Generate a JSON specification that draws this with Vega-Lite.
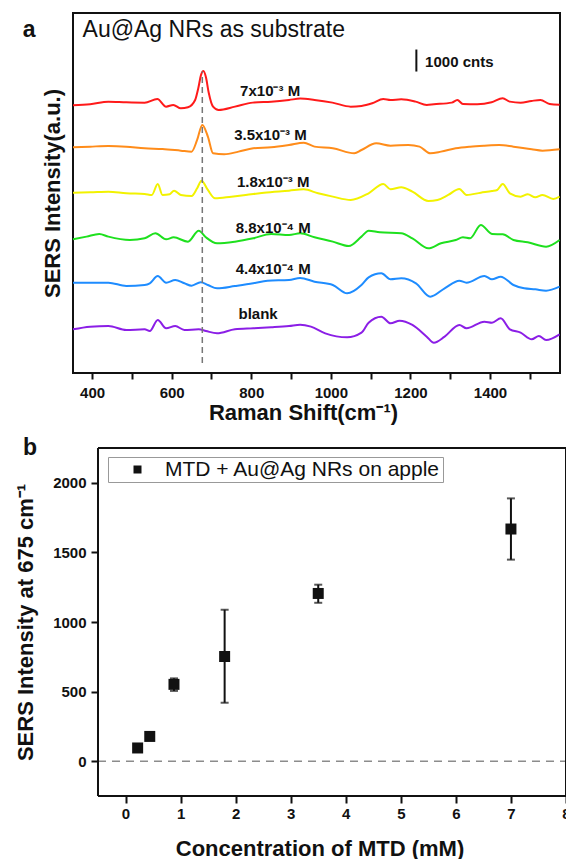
{
  "$schema": "https://vega.github.io/schema/vega-lite/v6.json",
  "padding": {"left": 14, "top": 12, "right": 0, "bottom": 0},
  "spacing": 12,
  "background": "white",
  "resolve": {"scale": {"color": "independent", "shape": "independent"}, "legend": {"color": "independent", "shape": "independent"}},
  "config": {
    "font": "Liberation Sans",
    "view": {"stroke": null},
    "axis": {"labelFont": "Liberation Sans", "labelFontWeight": "bold", "labelFontSize": 15, "labelColor": "#111", "titleFont": "Liberation Sans", "titleFontWeight": "bold", "titleFontSize": 22, "titleColor": "#111", "tickColor": "#111", "tickWidth": 2, "grid": false, "domain": false}
  },
  "datasets": {
    "spectra": [
      {"s":"7x10-3","x":352,"y":12166},{"s":"7x10-3","x":395,"y":12211},{"s":"7x10-3","x":441,"y":12332},{"s":"7x10-3","x":486,"y":12302},{"s":"7x10-3","x":532,"y":12287},{"s":"7x10-3","x":564,"y":12453},{"s":"7x10-3","x":586,"y":12105},{"s":"7x10-3","x":604,"y":12181},{"s":"7x10-3","x":623,"y":12029},{"s":"7x10-3","x":641,"y":12075},{"s":"7x10-3","x":659,"y":12408},{"s":"7x10-3","x":667,"y":12950},{"s":"7x10-3","x":674,"y":13560},{"s":"7x10-3","x":680,"y":13726},{"s":"7x10-3","x":686,"y":13450},{"s":"7x10-3","x":693,"y":12750},{"s":"7x10-3","x":704,"y":12105},{"s":"7x10-3","x":718,"y":11954},{"s":"7x10-3","x":759,"y":12105},{"s":"7x10-3","x":804,"y":12287},{"s":"7x10-3","x":850,"y":12332},{"s":"7x10-3","x":895,"y":12408},{"s":"7x10-3","x":923,"y":12469},{"s":"7x10-3","x":959,"y":12408},{"s":"7x10-3","x":1004,"y":12287},{"s":"7x10-3","x":1050,"y":12105},{"s":"7x10-3","x":1077,"y":12135},{"s":"7x10-3","x":1104,"y":12256},{"s":"7x10-3","x":1132,"y":12453},{"s":"7x10-3","x":1150,"y":12408},{"s":"7x10-3","x":1177,"y":12438},{"s":"7x10-3","x":1213,"y":12332},{"s":"7x10-3","x":1241,"y":12181},{"s":"7x10-3","x":1259,"y":12211},{"s":"7x10-3","x":1304,"y":12287},{"s":"7x10-3","x":1318,"y":12408},{"s":"7x10-3","x":1332,"y":12226},{"s":"7x10-3","x":1368,"y":12211},{"s":"7x10-3","x":1404,"y":12302},{"s":"7x10-3","x":1432,"y":12484},{"s":"7x10-3","x":1450,"y":12332},{"s":"7x10-3","x":1477,"y":12287},{"s":"7x10-3","x":1504,"y":12362},{"s":"7x10-3","x":1527,"y":12408},{"s":"7x10-3","x":1550,"y":12226},{"s":"7x10-3","x":1575,"y":12196},
      {"s":"3.5x10-3","x":352,"y":10257},{"s":"3.5x10-3","x":395,"y":10287},{"s":"3.5x10-3","x":441,"y":10317},{"s":"3.5x10-3","x":486,"y":10287},{"s":"3.5x10-3","x":532,"y":10211},{"s":"3.5x10-3","x":577,"y":10181},{"s":"3.5x10-3","x":623,"y":10105},{"s":"3.5x10-3","x":650,"y":10060},{"s":"3.5x10-3","x":664,"y":10590},{"s":"3.5x10-3","x":677,"y":11272},{"s":"3.5x10-3","x":691,"y":10742},{"s":"3.5x10-3","x":704,"y":9984},{"s":"3.5x10-3","x":732,"y":9939},{"s":"3.5x10-3","x":768,"y":10060},{"s":"3.5x10-3","x":805,"y":10211},{"s":"3.5x10-3","x":850,"y":10257},{"s":"3.5x10-3","x":895,"y":10363},{"s":"3.5x10-3","x":932,"y":10469},{"s":"3.5x10-3","x":959,"y":10287},{"s":"3.5x10-3","x":1005,"y":10211},{"s":"3.5x10-3","x":1059,"y":9984},{"s":"3.5x10-3","x":1077,"y":10135},{"s":"3.5x10-3","x":1114,"y":10438},{"s":"3.5x10-3","x":1150,"y":10332},{"s":"3.5x10-3","x":1195,"y":10363},{"s":"3.5x10-3","x":1223,"y":10287},{"s":"3.5x10-3","x":1250,"y":9984},{"s":"3.5x10-3","x":1277,"y":10060},{"s":"3.5x10-3","x":1314,"y":10211},{"s":"3.5x10-3","x":1350,"y":10287},{"s":"3.5x10-3","x":1386,"y":10332},{"s":"3.5x10-3","x":1423,"y":10363},{"s":"3.5x10-3","x":1459,"y":10287},{"s":"3.5x10-3","x":1505,"y":10166},{"s":"3.5x10-3","x":1532,"y":10105},{"s":"3.5x10-3","x":1575,"y":10166},
      {"s":"1.8x10-3","x":352,"y":8196},{"s":"1.8x10-3","x":395,"y":8211},{"s":"1.8x10-3","x":441,"y":8242},{"s":"1.8x10-3","x":486,"y":8166},{"s":"1.8x10-3","x":532,"y":8136},{"s":"1.8x10-3","x":550,"y":8090},{"s":"1.8x10-3","x":565,"y":8590},{"s":"1.8x10-3","x":577,"y":8090},{"s":"1.8x10-3","x":595,"y":8121},{"s":"1.8x10-3","x":606,"y":8287},{"s":"1.8x10-3","x":623,"y":8090},{"s":"1.8x10-3","x":650,"y":8045},{"s":"1.8x10-3","x":664,"y":8393},{"s":"1.8x10-3","x":675,"y":8742},{"s":"1.8x10-3","x":691,"y":8318},{"s":"1.8x10-3","x":709,"y":7939},{"s":"1.8x10-3","x":750,"y":8015},{"s":"1.8x10-3","x":786,"y":8090},{"s":"1.8x10-3","x":832,"y":8196},{"s":"1.8x10-3","x":895,"y":8287},{"s":"1.8x10-3","x":932,"y":8348},{"s":"1.8x10-3","x":968,"y":8166},{"s":"1.8x10-3","x":1005,"y":8015},{"s":"1.8x10-3","x":1050,"y":7863},{"s":"1.8x10-3","x":1095,"y":8166},{"s":"1.8x10-3","x":1132,"y":8590},{"s":"1.8x10-3","x":1150,"y":8348},{"s":"1.8x10-3","x":1177,"y":8439},{"s":"1.8x10-3","x":1205,"y":8242},{"s":"1.8x10-3","x":1245,"y":7818},{"s":"1.8x10-3","x":1268,"y":7863},{"s":"1.8x10-3","x":1295,"y":8090},{"s":"1.8x10-3","x":1323,"y":8363},{"s":"1.8x10-3","x":1341,"y":8090},{"s":"1.8x10-3","x":1377,"y":8196},{"s":"1.8x10-3","x":1405,"y":8272},{"s":"1.8x10-3","x":1418,"y":8318},{"s":"1.8x10-3","x":1432,"y":8590},{"s":"1.8x10-3","x":1450,"y":8166},{"s":"1.8x10-3","x":1477,"y":8015},{"s":"1.8x10-3","x":1495,"y":8121},{"s":"1.8x10-3","x":1514,"y":7984},{"s":"1.8x10-3","x":1532,"y":8090},{"s":"1.8x10-3","x":1559,"y":7908},{"s":"1.8x10-3","x":1575,"y":8015},
      {"s":"8.8x10-4","x":352,"y":6075},{"s":"8.8x10-4","x":386,"y":6197},{"s":"8.8x10-4","x":418,"y":6318},{"s":"8.8x10-4","x":441,"y":6197},{"s":"8.8x10-4","x":495,"y":6045},{"s":"8.8x10-4","x":532,"y":6121},{"s":"8.8x10-4","x":559,"y":6348},{"s":"8.8x10-4","x":586,"y":6075},{"s":"8.8x10-4","x":605,"y":6166},{"s":"8.8x10-4","x":641,"y":5969},{"s":"8.8x10-4","x":668,"y":6469},{"s":"8.8x10-4","x":686,"y":6166},{"s":"8.8x10-4","x":714,"y":5894},{"s":"8.8x10-4","x":759,"y":5969},{"s":"8.8x10-4","x":805,"y":6121},{"s":"8.8x10-4","x":850,"y":6318},{"s":"8.8x10-4","x":895,"y":6272},{"s":"8.8x10-4","x":923,"y":6348},{"s":"8.8x10-4","x":959,"y":6166},{"s":"8.8x10-4","x":1005,"y":5969},{"s":"8.8x10-4","x":1045,"y":5772},{"s":"8.8x10-4","x":1077,"y":6197},{"s":"8.8x10-4","x":1095,"y":6469},{"s":"8.8x10-4","x":1123,"y":6393},{"s":"8.8x10-4","x":1177,"y":6348},{"s":"8.8x10-4","x":1205,"y":6121},{"s":"8.8x10-4","x":1245,"y":5666},{"s":"8.8x10-4","x":1277,"y":5894},{"s":"8.8x10-4","x":1314,"y":6045},{"s":"8.8x10-4","x":1332,"y":6166},{"s":"8.8x10-4","x":1350,"y":6121},{"s":"8.8x10-4","x":1377,"y":6727},{"s":"8.8x10-4","x":1405,"y":6318},{"s":"8.8x10-4","x":1432,"y":6303},{"s":"8.8x10-4","x":1459,"y":6045},{"s":"8.8x10-4","x":1495,"y":5939},{"s":"8.8x10-4","x":1541,"y":5742},{"s":"8.8x10-4","x":1575,"y":6045},
      {"s":"4.4x10-4","x":352,"y":4106},{"s":"4.4x10-4","x":441,"y":4106},{"s":"4.4x10-4","x":486,"y":3954},{"s":"4.4x10-4","x":532,"y":4000},{"s":"4.4x10-4","x":545,"y":4076},{"s":"4.4x10-4","x":565,"y":4409},{"s":"4.4x10-4","x":586,"y":4106},{"s":"4.4x10-4","x":609,"y":4227},{"s":"4.4x10-4","x":632,"y":4076},{"s":"4.4x10-4","x":650,"y":3969},{"s":"4.4x10-4","x":673,"y":4121},{"s":"4.4x10-4","x":691,"y":4000},{"s":"4.4x10-4","x":714,"y":3848},{"s":"4.4x10-4","x":759,"y":3954},{"s":"4.4x10-4","x":805,"y":4076},{"s":"4.4x10-4","x":841,"y":4197},{"s":"4.4x10-4","x":895,"y":4227},{"s":"4.4x10-4","x":923,"y":4318},{"s":"4.4x10-4","x":959,"y":4151},{"s":"4.4x10-4","x":1005,"y":4000},{"s":"4.4x10-4","x":1041,"y":3621},{"s":"4.4x10-4","x":1077,"y":4000},{"s":"4.4x10-4","x":1095,"y":4348},{"s":"4.4x10-4","x":1127,"y":4530},{"s":"4.4x10-4","x":1150,"y":4257},{"s":"4.4x10-4","x":1177,"y":4303},{"s":"4.4x10-4","x":1214,"y":4076},{"s":"4.4x10-4","x":1250,"y":3470},{"s":"4.4x10-4","x":1286,"y":3848},{"s":"4.4x10-4","x":1323,"y":4197},{"s":"4.4x10-4","x":1341,"y":4106},{"s":"4.4x10-4","x":1386,"y":4409},{"s":"4.4x10-4","x":1405,"y":4257},{"s":"4.4x10-4","x":1427,"y":4379},{"s":"4.4x10-4","x":1459,"y":4000},{"s":"4.4x10-4","x":1486,"y":3848},{"s":"4.4x10-4","x":1514,"y":3803},{"s":"4.4x10-4","x":1541,"y":3742},{"s":"4.4x10-4","x":1575,"y":3924},
      {"s":"blank","x":352,"y":1985},{"s":"blank","x":395,"y":2106},{"s":"blank","x":441,"y":2136},{"s":"blank","x":486,"y":1955},{"s":"blank","x":532,"y":1985},{"s":"blank","x":545,"y":1909},{"s":"blank","x":565,"y":2409},{"s":"blank","x":586,"y":2030},{"s":"blank","x":609,"y":2136},{"s":"blank","x":632,"y":1955},{"s":"blank","x":668,"y":1985},{"s":"blank","x":686,"y":1909},{"s":"blank","x":714,"y":1803},{"s":"blank","x":759,"y":1985},{"s":"blank","x":805,"y":2030},{"s":"blank","x":850,"y":2076},{"s":"blank","x":895,"y":2136},{"s":"blank","x":923,"y":2197},{"s":"blank","x":950,"y":2106},{"s":"blank","x":986,"y":1803},{"s":"blank","x":1041,"y":1621},{"s":"blank","x":1077,"y":1833},{"s":"blank","x":1095,"y":2288},{"s":"blank","x":1127,"y":2561},{"s":"blank","x":1150,"y":2258},{"s":"blank","x":1173,"y":2379},{"s":"blank","x":1205,"y":2182},{"s":"blank","x":1241,"y":1652},{"s":"blank","x":1259,"y":1379},{"s":"blank","x":1286,"y":1652},{"s":"blank","x":1323,"y":2182},{"s":"blank","x":1341,"y":2030},{"s":"blank","x":1386,"y":2333},{"s":"blank","x":1405,"y":2288},{"s":"blank","x":1427,"y":2485},{"s":"blank","x":1450,"y":1985},{"s":"blank","x":1477,"y":1833},{"s":"blank","x":1505,"y":1530},{"s":"blank","x":1523,"y":1682},{"s":"blank","x":1541,"y":1500},{"s":"blank","x":1575,"y":1758}
    ],
    "labels": [
      {"x": 772, "y": 12590, "t": "7x10⁻³ M"},
      {"x": 757, "y": 10590, "t": "3.5x10⁻³ M"},
      {"x": 764, "y": 8454, "t": "1.8x10⁻³ M"},
      {"x": 761, "y": 6363, "t": "8.8x10⁻⁴ M"},
      {"x": 761, "y": 4500, "t": "4.4x10⁻⁴ M"},
      {"x": 768, "y": 2454, "t": "blank"}
    ],
    "points": [
      {"series": "MTD + Au@Ag NRs on apple", "c": 0.22, "v": 95, "lo": 95, "hi": 95},
      {"series": "MTD + Au@Ag NRs on apple", "c": 0.44, "v": 178, "lo": 178, "hi": 178},
      {"series": "MTD + Au@Ag NRs on apple", "c": 0.88, "v": 552, "lo": 505, "hi": 595},
      {"series": "MTD + Au@Ag NRs on apple", "c": 1.8, "v": 752, "lo": 420, "hi": 1088},
      {"series": "MTD + Au@Ag NRs on apple", "c": 3.5, "v": 1205, "lo": 1138, "hi": 1268},
      {"series": "MTD + Au@Ag NRs on apple", "c": 7.0, "v": 1668, "lo": 1448, "hi": 1888}
    ]
  },
  "vconcat": [
    {
      "width": 487,
      "height": 360,
      "view": {"stroke": "#111", "strokeWidth": 2},
      "layer": [
        {
          "data": {"name": "spectra"},
          "mark": {"type": "line", "strokeWidth": 2, "interpolate": "monotone"},
          "encoding": {
            "x": {"field": "x", "type": "quantitative", "scale": {"domain": [352, 1576], "nice": false, "zero": false},
                  "axis": {"values": [400,500,600,700,800,900,1000,1100,1200,1300,1400,1500], "format": "d", "labelExpr": "datum.value % 200 === 0 ? datum.label : ''", "tickSize": 6, "labelPadding": 6, "labelFlush": false, "labelOverlap": false, "title": "Raman Shift(cm⁻¹)", "titleX": 230, "titlePadding": 2}},
            "y": {"field": "y", "type": "quantitative", "scale": {"domain": [0, 16360], "nice": false},
                  "axis": {"labels": false, "ticks": false, "title": "SERS Intensity(a.u.)", "titlePadding": 9}},
            "color": {"field": "s", "type": "nominal", "legend": null,
                      "scale": {"domain": ["7x10-3","3.5x10-3","1.8x10-3","8.8x10-4","4.4x10-4","blank"], "range": ["#ff1a1a","#ff8c1a","#f2f200","#1ee01e","#1e8cff","#8b1ee6"]}}
          }
        },
        {
          "data": {"values": [{}]},
          "mark": {"type": "rule", "strokeDash": [6, 4], "color": "#777", "strokeWidth": 1.5},
          "encoding": {"x": {"datum": 677}, "y": {"datum": 455}, "y2": {"datum": 13700}}
        },
        {
          "data": {"name": "labels"},
          "mark": {"type": "text", "align": "left", "baseline": "alphabetic", "fontSize": 15, "fontWeight": "bold", "font": "Liberation Sans", "color": "#111"},
          "encoding": {"x": {"field": "x", "type": "quantitative"}, "y": {"field": "y", "type": "quantitative"}, "text": {"field": "t"}}
        },
        {
          "data": {"values": [{}]},
          "mark": {"type": "text", "align": "left", "baseline": "alphabetic", "fontSize": 23, "font": "Liberation Sans", "color": "#111", "text": "Au@Ag NRs as substrate"},
          "encoding": {"x": {"datum": 376}, "y": {"datum": 15272}}
        },
        {
          "data": {"values": [{}]},
          "mark": {"type": "text", "align": "left", "baseline": "alphabetic", "fontSize": 23, "fontWeight": "bold", "font": "Liberation Sans", "color": "#111", "text": "a"},
          "encoding": {"x": {"datum": 226}, "y": {"datum": 15250}}
        },
        {
          "data": {"values": [{}]},
          "mark": {"type": "rule", "color": "#111", "strokeWidth": 2},
          "encoding": {"x": {"datum": 1215}, "y": {"datum": 13700}, "y2": {"datum": 14700}}
        },
        {
          "data": {"values": [{}]},
          "mark": {"type": "text", "align": "left", "baseline": "alphabetic", "fontSize": 15, "fontWeight": "bold", "font": "Liberation Sans", "color": "#111", "text": "1000 cnts"},
          "encoding": {"x": {"datum": 1237}, "y": {"datum": 13908}}
        }
      ]
    },
    {
      "width": 493,
      "height": 348,
      "view": {"stroke": null},
      "layer": [
        {
          "data": {"values": [{}]},
          "mark": {"type": "rule", "strokeDash": [8, 6], "color": "#8c8c8c", "strokeWidth": 1.5},
          "encoding": {"x": {"datum": -0.5}, "x2": {"datum": 8}, "y": {"datum": 0}}
        },
        {
          "data": {"values": [{}]},
          "mark": {"type": "rule", "color": "#111", "strokeWidth": 2},
          "encoding": {"x": {"datum": -0.5}, "y": {"datum": -250}, "y2": {"datum": 2250}}
        },
        {
          "data": {"values": [{}]},
          "mark": {"type": "rule", "color": "#111", "strokeWidth": 2},
          "encoding": {"x": {"datum": 8}, "y": {"datum": -250}, "y2": {"datum": 2250}}
        },
        {
          "data": {"values": [{}]},
          "mark": {"type": "rule", "color": "#111", "strokeWidth": 2},
          "encoding": {"x": {"datum": -0.5}, "x2": {"datum": 8}, "y": {"datum": 2250}}
        },
        {
          "data": {"values": [{}]},
          "mark": {"type": "rule", "color": "#111", "strokeWidth": 2},
          "encoding": {"x": {"datum": -0.5}, "x2": {"datum": 8}, "y": {"datum": -250}}
        },
        {
          "data": {"values": [{}]},
          "mark": {"type": "text", "align": "left", "baseline": "alphabetic", "fontSize": 23, "fontWeight": "bold", "font": "Liberation Sans", "color": "#111", "text": "b"},
          "encoding": {"x": {"datum": -1.862}, "y": {"datum": 2200}}
        },
        {
          "data": {"name": "points"},
          "mark": {"type": "rule", "color": "#111", "strokeWidth": 2},
          "encoding": {"x": {"field": "c", "type": "quantitative"}, "y": {"field": "lo", "type": "quantitative"}, "y2": {"field": "hi"}}
        },
        {
          "data": {"name": "points"},
          "mark": {"type": "tick", "orient": "horizontal", "color": "#111", "size": 8, "thickness": 2},
          "encoding": {"x": {"field": "c", "type": "quantitative"}, "y": {"field": "lo", "type": "quantitative"}}
        },
        {
          "data": {"name": "points"},
          "mark": {"type": "tick", "orient": "horizontal", "color": "#111", "size": 8, "thickness": 2},
          "encoding": {"x": {"field": "c", "type": "quantitative"}, "y": {"field": "hi", "type": "quantitative"}}
        },
        {
          "data": {"name": "points"},
          "mark": {"type": "point", "filled": true, "size": 121, "opacity": 1},
          "encoding": {
            "x": {"field": "c", "type": "quantitative", "scale": {"domain": [-0.954, 8], "nice": false, "zero": false},
                  "axis": {"values": [0,1,2,3,4,5,6,7,8], "format": "d", "tickSize": 7, "labelPadding": 3, "labelFlush": false, "labelOverlap": false, "title": "Concentration of MTD (mM)", "titlePadding": 17}},
            "y": {"field": "v", "type": "quantitative", "scale": {"domain": [-250, 2250], "nice": false, "zero": false},
                  "axis": {"values": [0,500,1000,1500,2000], "format": "d", "offset": -25, "tickSize": 7, "labelPadding": 5, "title": "SERS Intensity at 675 cm⁻¹", "titlePadding": 15}},
            "color": {"field": "series", "type": "nominal", "scale": {"range": ["#111"]},
                      "legend": {"title": null, "orient": "none", "legendX": 35, "legendY": 9, "labelFontSize": 21, "labelFont": "Liberation Sans", "labelFontWeight": "normal", "labelColor": "#111", "symbolSize": 64, "symbolType": "square", "symbolStrokeWidth": 0, "strokeColor": "#999", "fillColor": "white", "padding": 2, "symbolOffset": 17, "labelOffset": 17, "labelLimit": 400}},
            "shape": {"field": "series", "type": "nominal", "scale": {"range": ["square"]}}
          }
        }
      ]
    }
  ]
}
